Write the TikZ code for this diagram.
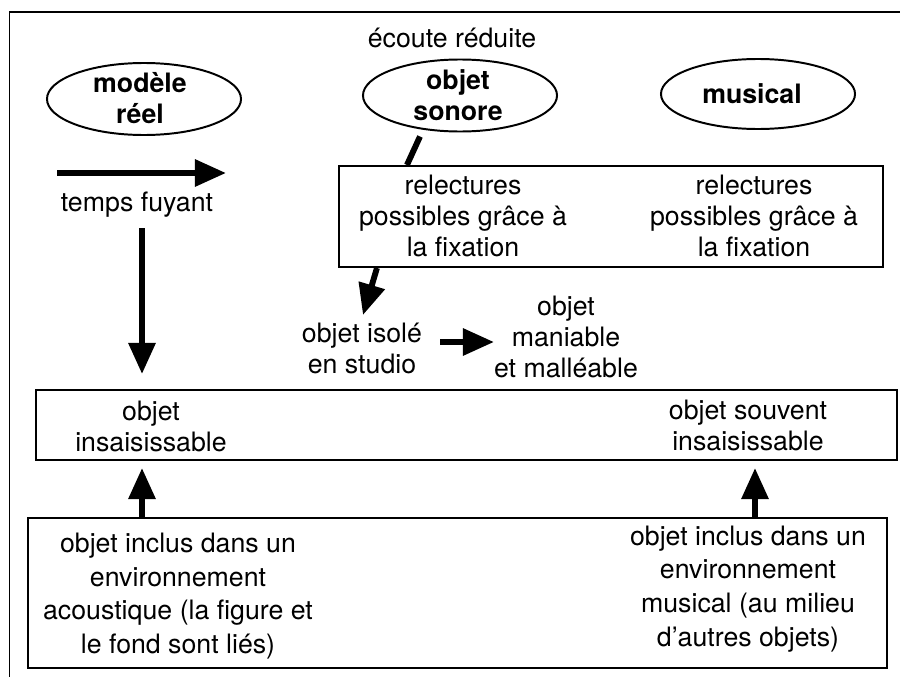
\documentclass[tikz,border=0pt]{standalone}
\usepackage{fontspec}
\setmainfont{TeX Gyre Heros}
\usetikzlibrary{shapes.geometric,arrows.meta,calc}

\begin{document}
\begin{tikzpicture}[x=0.025cm,y=-0.025cm,
        font=\fontsize{19pt}{22pt}\selectfont,
        texte/.style={align=center,inner sep=0pt},
        gras/.style={texte,font=\fontsize{19pt}{22pt}\selectfont\bfseries},
        large/.style={texte,font=\fontsize{19pt}{24pt}\selectfont},
        bulle/.style={draw,ellipse,line width=1.4pt,inner sep=0pt,minimum width=4.85cm,minimum height=1.8cm},
        cadre/.style={draw,rectangle,line width=1.4pt,inner sep=0pt},
        fleche/.style={line width=4.2pt,-{Triangle[length=7.75mm,width=6.5mm]}},
        trait/.style={line width=4.2pt}]
        \useasboundingbox (0,0) rectangle (900,677);
        % cadre exterieur
        \draw[line width=1.4pt] (900,12) -- (9.5,12) -- (9.5,677);
        % les trois ellipses
        \node[bulle] (reel) at (144,99) {};
        \node[gras] (reelT) at (140,98) {modèle\\réel};
        \node[bulle] (sonore) at (460,95.5) {};
        \node[gras] (sonoreT) at (458,95) {objet\\sonore};
        \node[bulle,minimum height=1.75cm] (musical) at (758,94) {};
        \node[gras] (musicalT) at (752,94) {musical};
        \node[texte] (ecoute) at (452,38) {écoute réduite};
        % temps fuyant
        \coordinate (t0) at (57,173);
        \coordinate (t1) at (226,173);
        \draw[fleche] (t0) -- (t1);
        \node[texte] (fuyant) at (137,205) {temps fuyant};
        % cadre des relectures
        \node[cadre,minimum width=13.6cm,minimum height=2.525cm] (fixbox) at (611,216.5) {};
        \node[texte] (relect1) at (463,216) {relectures\\possibles grâce à\\la fixation};
        \node[texte] (relect2) at (754,216) {relectures\\possibles grâce à\\la fixation};
        \draw[trait] ($(sonore)+(-40,41)$) -- ($(fixbox.north west)+(69,0)$);
        % studio
        \node[texte] (isole) at (362,348) {objet isolé\\en studio};
        \node[texte] (maniable) at (566,337) {objet\\maniable\\et malléable};
        \draw[fleche] ($(fixbox.south west)+(39,0)$) -- ($(isole)+(1,-33)$);
        \draw[fleche] ($(isole)+(78,-6)$) -- ($(maniable)+(-72,5)$);
        % cadre du milieu
        \node[cadre,minimum width=21.525cm,minimum height=1.75cm] (milieu) at (466.5,425) {};
        \node[texte] (insais1) at (151,426) {objet\\insaisissable};
        \node[texte] (insais2) at (748,425) {objet souvent\\insaisissable};
        \coordinate (d0) at (142,228);
        \draw[fleche,shorten >=3.75mm] (d0) -- (d0 |- milieu.north);
        % cadre du bas
        \node[cadre,minimum width=21.475cm,minimum height=3.75cm] (bas) at (457.5,593) {};
        \node[large] (incl1) at (178,596) {objet inclus dans un\\environnement\\acoustique (la figure et\\le fond sont liés)};
        \node[large] (incl2) at (748,589) {objet inclus dans un\\environnement\\musical (au milieu\\d’autres objets)};
        \foreach \px in {142,755}
                \draw[fleche,shorten >=1.75mm] (bas.north -| \px,0) -- (milieu.south -| \px,0);
\end{tikzpicture}
\end{document}
